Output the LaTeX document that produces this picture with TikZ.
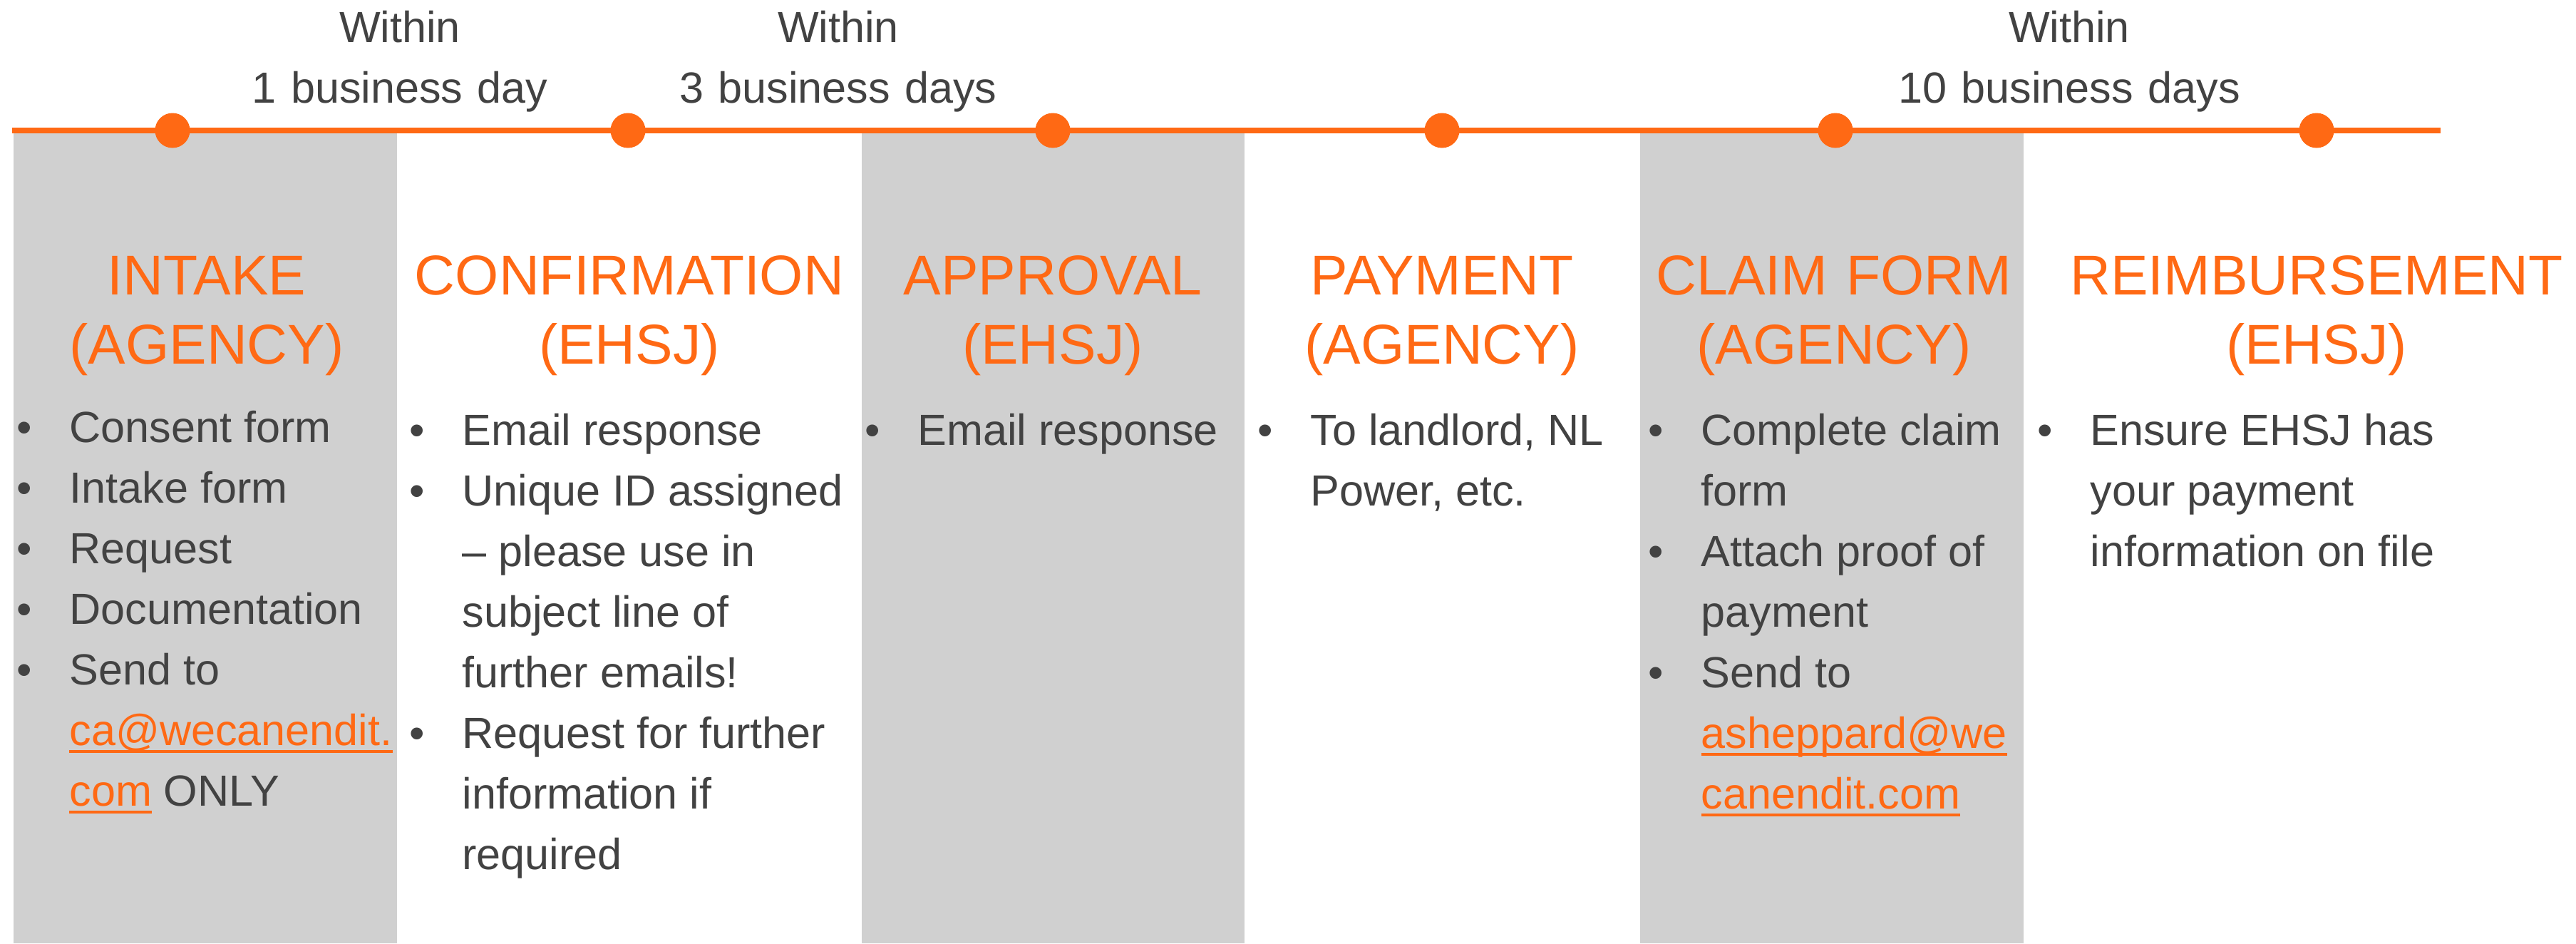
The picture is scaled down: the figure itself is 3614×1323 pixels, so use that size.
\documentclass[tikz,border=0pt]{standalone}
\usepackage{fontspec}
\setmainfont{Liberation Sans}
\usepackage{graphicx}

\definecolor{accent}{RGB}{255,105,20}
\definecolor{ink}{RGB}{66,66,66}
\definecolor{bandgray}{RGB}{208,208,208}

% link text with a thick rule below it
\newcommand{\weblink}[1]{{\color{accent}\setbox0=\hbox{#1}\rlap{\rule[-1.1mm]{\wd0}{0.4mm}}\box0}}

\begin{document}
\begin{tikzpicture}[x=0.1mm, y=-0.1mm,
    stripe/.style={fill=bandgray},
    timeline/.style={draw=accent, line width=0.8mm},
    stopdot/.style={circle, fill=accent, minimum size=4.9mm, inner sep=0pt},
    within/.style={anchor=base, text width=60mm, align=center, inner sep=0pt, text=ink, font=\fontsize{17.4}{24.2}\selectfont},
    phase/.style={anchor=base, text width=80mm, align=center, inner sep=0pt, text=accent, font=\fontsize{22.4}{27.6}\selectfont},
    items/.style={anchor=base west, inner sep=0pt, text=ink, font=\fontsize{17.4}{24.2}\selectfont},
]
\useasboundingbox (0,0) rectangle (3614,1323);

% grey bands behind every other step
\fill[stripe] (19,183) rectangle (557,1323);
\fill[stripe] (1209,183) rectangle (1746,1323);
\fill[stripe] (2301,183) rectangle (2839,1323);

% the time line and its stops
\coordinate (line start) at (17,183);
\coordinate (line end) at (3424,183);
\draw[timeline] (line start) -- (line end);
\foreach \x [count=\i] in {242,881,1477,2023,2575,3250}
    \node[stopdot] (stop\i) at (\x,183) {};

% time limits above the line
\node[within] (limit1) at (561,59) {Within\\1 business day};
\node[within] (limit2) at (1176,59) {Within\\3 business days};
\node[within] (limit3) at (2903,59) {Within\\10 business days};

% step titles
\node[phase] (intake) at (290,413) {INTAKE\\(AGENCY)};
\node[phase] (confirmation) at (883,413) {CONFIRMATION\\(EHSJ)};
\node[phase] (approval) at (1477,413) {APPROVAL\\(EHSJ)};
\node[phase] (payment) at (2023,413) {PAYMENT\\(AGENCY)};
\node[phase] (claim) at (2573,413) {CLAIM FORM\\(AGENCY)};
\node[phase] (reimbursement) at (3250,413) {REIMBURSEMENT\\(EHSJ)};

% what each step needs
\node[items] (intake items) at (23,620) {\begin{tabular}[t]{@{}c@{\hspace{14.9pt}}l@{}}
\textbullet & Consent form\\
\textbullet & Intake form\\
\textbullet & Request\\
\textbullet & Documentation\\
\textbullet & Send to\\
 & \weblink{ca@wecanendit.}\\
 & \weblink{com} ONLY
\end{tabular}};
\node[items] (confirmation items) at (574,624) {\begin{tabular}[t]{@{}c@{\hspace{14.9pt}}l@{}}
\textbullet & Email response\\
\textbullet & Unique ID assigned\\
 & – please use in\\
 & subject line of\\
 & further emails!\\
\textbullet & Request for further\\
 & information if\\
 & required
\end{tabular}};
\node[items] (approval items) at (1213,624) {\begin{tabular}[t]{@{}c@{\hspace{14.9pt}}l@{}}
\textbullet & Email response
\end{tabular}};
\node[items] (payment items) at (1764,624) {\begin{tabular}[t]{@{}c@{\hspace{14.9pt}}l@{}}
\textbullet & To landlord, NL\\
 & Power, etc.
\end{tabular}};
\node[items] (claim items) at (2312,624) {\begin{tabular}[t]{@{}c@{\hspace{14.9pt}}l@{}}
\textbullet & Complete claim\\
 & form\\
\textbullet & Attach proof of\\
 & payment\\
\textbullet & Send to\\
 & \weblink{asheppard@we}\\
 & \weblink{canendit.com}
\end{tabular}};
\node[items] (reimbursement items) at (2858,624) {\begin{tabular}[t]{@{}c@{\hspace{14.9pt}}l@{}}
\textbullet & Ensure EHSJ has\\
 & your payment\\
 & information on file
\end{tabular}};
\end{tikzpicture}
\end{document}
